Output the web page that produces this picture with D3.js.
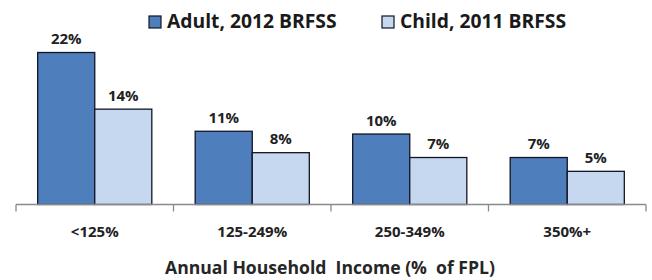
<!DOCTYPE html>
<html><head><meta charset="utf-8">
<script src="https://cdn.jsdelivr.net/npm/d3@7"></script>
<style>body{margin:0;background:#fff}svg{display:block}</style>
</head><body>
<svg id="c" width="652" height="280"></svg>
<script>
const categories = ["<125%", "125-249%", "250-349%", "350%+"];
const seriesNames = ["Adult, 2012 BRFSS", "Child, 2011 BRFSS"];
const adultValues = [22.0, 10.6, 10.2, 6.8];
const childValues = [13.8, 7.5, 6.8, 4.8];
const colors = ["#4F7EBD", "#C6D8F0"];
const xTitle = "Annual Household  Income (%  of FPL)";

const svg = d3.select("#c");
const font = "'Open Sans', Lato, sans-serif";
const left = 16, right = 646, base = 204.5;
const x = d3.scaleBand().domain(categories).range([left, right]).paddingInner(0).paddingOuter(0);
const y = d3.scaleLinear().domain([0, 22]).range([base, 52.5]);
const inner = d3.scaleBand().domain(seriesNames).range([0, x.bandwidth()]).paddingInner(0).paddingOuter(0.38);
const fmt = v => Math.round(v) + "%";

const data = categories.map((c, i) => ({c, vals: [adultValues[i], childValues[i]]}));

const g = svg.append("g");
data.forEach(d => {
  d.vals.forEach((v, j) => {
    const bx = x(d.c) + inner(seriesNames[j]);
    g.append("rect").attr("x", bx).attr("y", y(v)).attr("width", inner.bandwidth()).attr("height", base - y(v))
      .attr("fill", colors[j]).attr("stroke", "#111522").attr("stroke-width", 1.3);
    g.append("text").attr("x", bx + inner.bandwidth() / 2).attr("y", y(v) - 8.5)
      .attr("text-anchor", "middle").attr("font-family", font).attr("font-weight", "bold")
      .attr("font-size", 15).attr("fill", "#222").text(fmt(v));
  });
});

// axis
const axis = d3.axisBottom(x).tickSize(0).tickFormat(d => d);
const ag = svg.append("g").attr("transform", `translate(0,${base})`).call(axis);
ag.select(".domain").remove();
ag.append("line").attr("x1", left).attr("x2", right).attr("stroke", "#8a8a8a").attr("stroke-width", 1.3);
[left, ...categories.map(c => x(c) + x.bandwidth())].forEach(t => {
  ag.append("line").attr("x1", t).attr("x2", t).attr("y1", 0).attr("y2", 7).attr("stroke", "#8a8a8a").attr("stroke-width", 1.3);
});
ag.selectAll(".tick text").attr("font-family", font).attr("font-weight", "bold").attr("font-size", 15)
  .attr("fill", "#222").attr("dy", 0).attr("y", 32.5);

svg.append("text").attr("x", 330).attr("y", 274).attr("text-anchor", "middle")
  .attr("font-family", font).attr("font-weight", "bold").attr("font-size", 17.6).attr("fill", "#262626")
  .attr("xml:space", "preserve").style("white-space", "pre").text(xTitle);

// legend
const legX = [149, 382];
seriesNames.forEach((s, j) => {
  svg.append("rect").attr("x", legX[j]).attr("y", 16).attr("width", 12).attr("height", 12)
    .attr("fill", colors[j]).attr("stroke", "#111522").attr("stroke-width", 1.2);
  svg.append("text").attr("x", legX[j] + 18).attr("y", 28.3).attr("font-family", font).attr("font-weight", "bold")
    .attr("font-size", 19.3).attr("fill", "#1a1a1a").text(s);
});
</script>
</body></html>
